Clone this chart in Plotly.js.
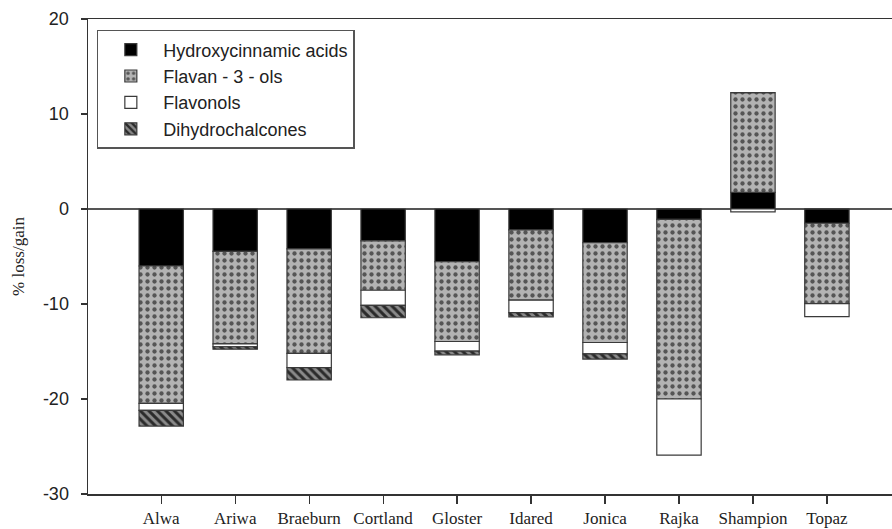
<!DOCTYPE html>
<html>
<head>
<meta charset="utf-8">
<script src="https://cdn.plot.ly/plotly-3.0.1.min.js"></script>
<style>html,body{margin:0;padding:0;background:#fff;}#chart{width:892px;height:529px;}</style>
</head>
<body>
<div id="chart"></div>
<script>
const cultivars = ["Alwa","Ariwa","Braeburn","Cortland","Gloster","Idared","Jonica","Rajka","Shampion","Topaz"];
const hydroxycinnamic = [-6.0,-4.45,-4.2,-3.35,-5.55,-2.2,-3.55,-1.1,1.75,-1.5];
const flavan3ols = [-14.45,-9.75,-11.0,-5.2,-8.4,-7.4,-10.5,-18.9,10.5,-8.47];
const flavonols = [-0.75,-0.3,-1.5,-1.6,-1.0,-1.3,-1.2,-5.9,-0.3,-1.35];
const dihydrochalcones = [-1.65,-0.25,-1.3,-1.3,-0.4,-0.45,-0.55,0,0,0];
const yTicks = [-30,-20,-10,0,10,20];

const outline = {color:"#3a3a3a", width:1.2};
const traces = [
  {name:"Hydroxycinnamic acids", y:hydroxycinnamic, marker:{color:"#000000", line:outline}},
  {name:"Flavan - 3 - ols", y:flavan3ols, marker:{color:"#b3b3b3", line:outline,
     pattern:{shape:".", bgcolor:"#b3b3b3", fgcolor:"#555555", size:7, solidity:0.3, fillmode:"replace"}}},
  {name:"Flavonols", y:flavonols, marker:{color:"#ffffff", line:outline}},
  {name:"Dihydrochalcones", y:dihydrochalcones, marker:{color:"#333333", line:outline,
     pattern:{shape:"\\", bgcolor:"#8a8a8a", fgcolor:"#2a2a2a", size:6, solidity:0.5, fillmode:"replace"}}}
].map(t => Object.assign({type:"bar", x:cultivars, hoverinfo:"skip"}, t));

const layout = {
  width:892, height:529,
  margin:{l:88, r:0, t:19, b:35},
  paper_bgcolor:"#fff", plot_bgcolor:"#fff",
  barmode:"relative", bargap:0.4,
  showlegend:true,
  legend:{x:0.011, y:0.977, xanchor:"left", yanchor:"top", bgcolor:"#fff",
          bordercolor:"#555", borderwidth:1.5, traceorder:"normal",
          font:{family:"Liberation Sans, Arial, sans-serif", size:18, color:"#222"},
          itemwidth:55, tracegroupgap:0},
  xaxis:{type:"category", range:[-0.99,9.88], showline:true, linecolor:"#333", linewidth:1.5,
         mirror:true, ticks:"outside", ticklen:8, tickwidth:1.2, tickcolor:"#333",
         showgrid:false, zeroline:false, ticklabelstandoff:0,
         tickfont:{family:"Liberation Serif, Times New Roman, serif", size:17, color:"#222"}},
  yaxis:{range:[-30,20], tickvals:yTicks, ticktext:yTicks.map(String), showline:true,
         linecolor:"#333", linewidth:1.5, ticks:"outside", ticklen:6, tickwidth:1.2, tickcolor:"#333",
         showgrid:false, zeroline:true, zerolinecolor:"#555", zerolinewidth:1.3,
         ticklabelstandoff:8,
         tickfont:{family:"Liberation Sans, Arial, sans-serif", size:18, color:"#222"},
         title:{text:"% loss/gain", standoff:14,
                font:{family:"Liberation Serif, Times New Roman, serif", size:17, color:"#222"}}}
};
Plotly.newPlot("chart", traces, layout, {displayModeBar:false, staticPlot:true});
</script>
</body>
</html>
